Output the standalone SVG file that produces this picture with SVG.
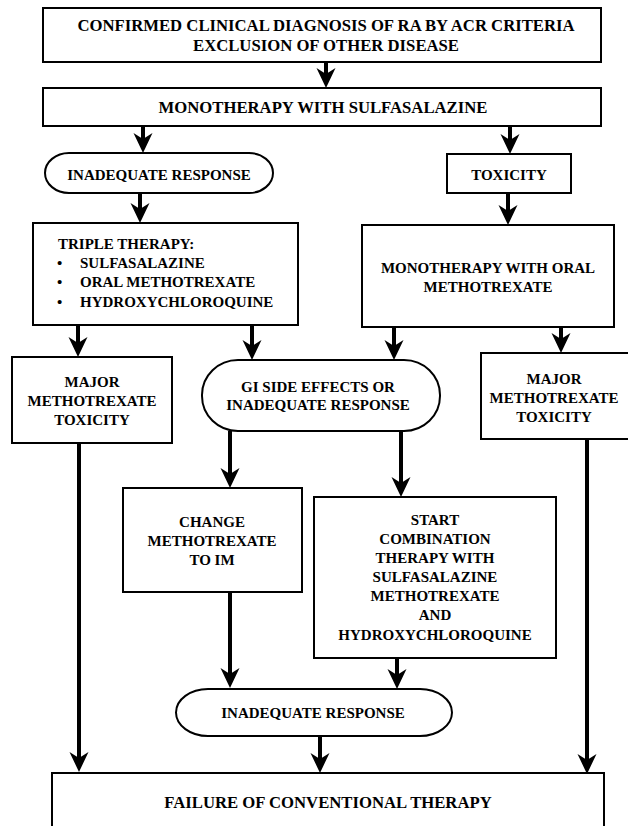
<svg xmlns="http://www.w3.org/2000/svg" width="628" height="826" viewBox="0 0 628 826">
<style>
.box{fill:#fff;stroke:#000;stroke-width:2}
.t{font-family:"Liberation Serif","Times New Roman",serif;font-weight:bold;font-size:15px;text-anchor:middle;fill:#000}
.big{font-size:16.7px}
.l{text-anchor:start}
.c{stroke:#000;stroke-width:4;fill:none;marker-end:url(#ah)}
</style>
<defs>
<marker id="ah" markerUnits="userSpaceOnUse" viewBox="0 0 20 20" refX="11" refY="10" markerWidth="20" markerHeight="20" orient="auto">
<path d="M0,0.5 L20,10 L0,19.5 L6,10 Z" fill="#000"/>
</marker>
</defs>
<rect x="0" y="0" width="628" height="826" fill="#fff"/>

<g id="connectors">
<line class="c" x1="326" y1="63" x2="326" y2="79"/>
<line class="c" x1="143" y1="126" x2="143" y2="144"/>
<line class="c" x1="510" y1="126" x2="510" y2="145"/>
<line class="c" x1="140" y1="193" x2="140" y2="214"/>
<line class="c" x1="508" y1="193" x2="508" y2="216"/>
<line class="c" x1="78" y1="326" x2="78" y2="348"/>
<line class="c" x1="252" y1="326" x2="252" y2="351"/>
<line class="c" x1="394" y1="327" x2="394" y2="351"/>
<line class="c" x1="561" y1="327" x2="561" y2="344"/>
<line class="c" x1="230" y1="431" x2="230" y2="479"/>
<line class="c" x1="401" y1="431" x2="401" y2="488"/>
<line class="c" x1="230" y1="592" x2="230" y2="679"/>
<line class="c" x1="397" y1="658" x2="397" y2="680"/>
<line class="c" x1="320" y1="736" x2="320" y2="764"/>
<line class="c" x1="79" y1="443" x2="79" y2="763"/>
<line class="c" x1="587" y1="439" x2="587" y2="765"/>
</g>

<g id="diagnosis">
<rect class="box" x="43" y="8" width="558" height="54"/>
<text class="t big" x="326" y="31">CONFIRMED CLINICAL DIAGNOSIS OF RA BY ACR CRITERIA</text>
<text class="t big" x="326" y="51">EXCLUSION OF OTHER DISEASE</text>
</g>

<g id="mono-ssz">
<rect class="box" x="43" y="88" width="558" height="38"/>
<text class="t big" x="323" y="113">MONOTHERAPY WITH SULFASALAZINE</text>
</g>

<g id="inadequate1">
<rect class="box" x="45" y="153" width="228" height="40" rx="24" ry="20"/>
<text class="t" x="159" y="180">INADEQUATE RESPONSE</text>
</g>

<g id="toxicity">
<rect class="box" x="447" y="154" width="124" height="39"/>
<text class="t" x="509" y="180">TOXICITY</text>
</g>

<g id="triple">
<rect class="box" x="33" y="223" width="265" height="102"/>
<text class="t l" x="58" y="249">TRIPLE THERAPY:</text>
<text class="t l" x="57" y="268">•</text>
<text class="t l" x="80" y="268">SULFASALAZINE</text>
<text class="t l" x="57" y="287">•</text>
<text class="t l" x="80" y="287">ORAL METHOTREXATE</text>
<text class="t l" x="57" y="307">•</text>
<text class="t l" x="80" y="307">HYDROXYCHLOROQUINE</text>
</g>

<g id="mono-mtx">
<rect class="box" x="362" y="225" width="252" height="102"/>
<text class="t" x="488" y="273">MONOTHERAPY WITH ORAL</text>
<text class="t" x="488" y="292">METHOTREXATE</text>
</g>

<g id="major-left">
<rect class="box" x="12" y="357" width="160" height="86"/>
<text class="t" x="92" y="387">MAJOR</text>
<text class="t" x="92" y="406">METHOTREXATE</text>
<text class="t" x="92" y="425">TOXICITY</text>
</g>

<g id="gi">
<rect class="box" x="202" y="360" width="238" height="71" rx="36" ry="35"/>
<text class="t" x="318" y="392">GI SIDE EFFECTS OR</text>
<text class="t" x="318" y="410">INADEQUATE RESPONSE</text>
</g>

<g id="major-right">
<rect class="box" x="481" y="353" width="160" height="86"/>
<text class="t" x="554" y="384">MAJOR</text>
<text class="t" x="554" y="403">METHOTREXATE</text>
<text class="t" x="554" y="422">TOXICITY</text>
</g>

<g id="change-im">
<rect class="box" x="123" y="488" width="179" height="104"/>
<text class="t" x="212" y="527">CHANGE</text>
<text class="t" x="212" y="546">METHOTREXATE</text>
<text class="t" x="212" y="565">TO IM</text>
</g>

<g id="combination">
<rect class="box" x="314" y="497" width="242" height="161"/>
<text class="t" x="435" y="525">START</text>
<text class="t" x="435" y="544">COMBINATION</text>
<text class="t" x="435" y="563">THERAPY WITH</text>
<text class="t" x="435" y="582">SULFASALAZINE</text>
<text class="t" x="435" y="601">METHOTREXATE</text>
<text class="t" x="435" y="620">AND</text>
<text class="t" x="435" y="640">HYDROXYCHLOROQUINE</text>
</g>

<g id="inadequate2">
<rect class="box" x="176" y="689" width="276" height="47" rx="32" ry="23.5"/>
<text class="t" x="313" y="718">INADEQUATE RESPONSE</text>
</g>

<g id="failure">
<rect class="box" x="52" y="773" width="552" height="60"/>
<text class="t big" x="328" y="808">FAILURE OF CONVENTIONAL THERAPY</text>
</g>
</svg>
